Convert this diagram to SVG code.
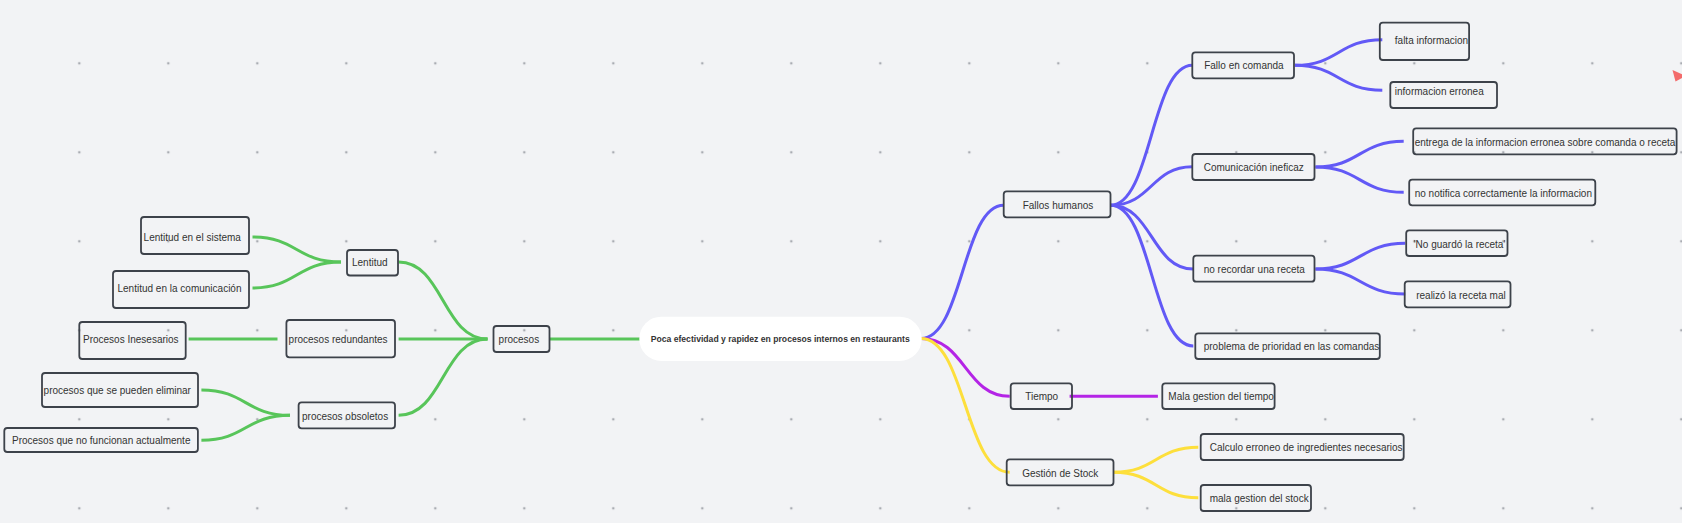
<svg xmlns="http://www.w3.org/2000/svg" width="1682" height="523" viewBox="0 0 1682 523">
<defs>
<style>
.bg{fill:#f2f3f5}
.dot{fill:#a9acb2}
.box{fill:none;stroke:#3d424a;stroke-width:1.8}
.t{font-family:"Liberation Sans",Arial,sans-serif;font-size:10px;fill:#333}
.tc{font-family:"Liberation Sans",Arial,sans-serif;font-size:9px;font-weight:bold;fill:#333}
.c{fill:none;stroke-width:3;stroke-linecap:butt}
.g{stroke:#58c55a}
.b{stroke:#6259f6}
.p{stroke:#b424e6}
.y{stroke:#fddf3c}
</style>
<pattern id="grid" x="79.3" y="63.3" width="89" height="89" patternUnits="userSpaceOnUse">
<circle class="dot" cx="0" cy="0" r="1.3"/>
<circle class="dot" cx="89" cy="0" r="1.3"/>
<circle class="dot" cx="0" cy="89" r="1.3"/>
<circle class="dot" cx="89" cy="89" r="1.3"/>
</pattern>
</defs>
<rect class="bg" x="0" y="0" width="1682" height="523"/>
<rect x="0" y="0" width="1682" height="523" fill="url(#grid)"/>

<g id="connectors">
<path class="c g" d="M252.5 237 C296.7 237 296.7 262 341 262"/>
<path class="c g" d="M252.5 288 C296.7 288 296.7 262 341 262"/>
<path class="c g" d="M398.6 262 C443 262 443 339 487.5 339"/>
<path class="c g" d="M188.6 339 L277.5 339"/>
<path class="c g" d="M398.6 339 L487.5 339"/>
<path class="c g" d="M201.4 390 C245.7 390 245.7 415.3 290 415.3"/>
<path class="c g" d="M201.4 440.3 C245.7 440.3 245.7 415.3 290 415.3"/>
<path class="c g" d="M398.6 415.3 C443 415.3 443 339 487.5 339"/>
<path class="c g" d="M550 339 L640 339"/>

<path class="c b" d="M921 338.5 C962.5 338.5 962.5 205.3 1003.7 205.3"/>
<path class="c b" d="M1110.5 205.3 C1151.4 205.3 1151.4 65.3 1192.3 65.3"/>
<path class="c b" d="M1110.5 205.3 C1151.4 205.3 1151.4 166.7 1192.3 166.7"/>
<path class="c b" d="M1110.5 205.3 C1151.9 205.3 1151.9 269 1193.3 269"/>
<path class="c b" d="M1110.5 205.3 C1151.9 205.3 1151.9 346 1193.3 346"/>
<path class="c b" d="M1295 65.3 C1338.6 65.3 1338.6 39.7 1382.3 39.7"/>
<path class="c b" d="M1295 65.3 C1338.6 65.3 1338.6 90.3 1382.3 90.3"/>
<path class="c b" d="M1315.5 167 C1359.6 167 1359.6 141.3 1403.7 141.3"/>
<path class="c b" d="M1315.5 167 C1359.6 167 1359.6 192.3 1403.7 192.3"/>
<path class="c b" d="M1315.5 269 C1360.3 269 1360.3 243.3 1405.2 243.3"/>
<path class="c b" d="M1315.5 269 C1360.3 269 1360.3 294 1405.2 294"/>

<path class="c p" d="M921 338.5 C965.3 338.5 965.3 396.3 1009.7 396.3"/>
<path class="c p" d="M1069.6 396.3 L1157.9 396.3"/>

<path class="c y" d="M921 338.5 C965.3 338.5 965.3 472.3 1009.7 472.3"/>
<path class="c y" d="M1113.5 472.3 C1155.9 472.3 1155.9 447.3 1198.3 447.3"/>
<path class="c y" d="M1113.5 472.3 C1155.9 472.3 1155.9 497.7 1198.3 497.7"/>
</g>

<g id="central">
<rect x="639.3" y="316.7" width="282.4" height="44.3" rx="22" fill="#ffffff"/>
<text class="tc" x="650.7" y="341.6" textLength="259" lengthAdjust="spacingAndGlyphs">Poca efectividad y rapidez en procesos internos en restaurants</text>
</g>

<g id="lentitud-sistema"><rect class="box" x="141" y="217" width="108" height="37" rx="3"/><text class="t" x="143.6" y="240.8">Lentitud en el sistema</text></g>
<g id="lentitud-comunicacion"><rect class="box" x="113" y="271" width="136" height="37" rx="3"/><text class="t" x="117.5" y="291.8">Lentitud en la comunicación</text></g>
<g id="lentitud"><rect class="box" x="347" y="250" width="51" height="25.5" rx="3"/><text class="t" x="352" y="266.2">Lentitud</text></g>
<g id="procesos-inesesarios"><rect class="box" x="79.3" y="322" width="106.4" height="37" rx="3"/><text class="t" x="83" y="342.5">Procesos Inesesarios</text></g>
<g id="procesos-redundantes"><rect class="box" x="286.4" y="320" width="108.6" height="37.3" rx="3"/><text class="t" x="288.6" y="342.5">procesos redundantes</text></g>
<g id="procesos"><rect class="box" x="493.5" y="326" width="56" height="26" rx="3"/><text class="t" x="498.6" y="342.5">procesos</text></g>
<g id="procesos-eliminar"><rect class="box" x="42" y="373" width="156" height="34" rx="3"/><text class="t" x="43.6" y="394.2">procesos que se pueden eliminar</text></g>
<g id="procesos-no-funcionan"><rect class="box" x="4.3" y="428" width="193.6" height="24" rx="3"/><text class="t" x="12" y="444.2">Procesos que no funcionan actualmente</text></g>
<g id="procesos-obsoletos"><rect class="box" x="298.6" y="402.3" width="96.4" height="26" rx="3"/><text class="t" x="302" y="419.5">procesos obsoletos</text></g>

<g id="fallos-humanos"><rect class="box" x="1003.7" y="191.3" width="106.8" height="26" rx="3"/><text class="t" x="1022.7" y="209.2">Fallos humanos</text></g>
<g id="fallo-comanda"><rect class="box" x="1192.3" y="52.3" width="101.7" height="26" rx="3"/><text class="t" x="1204.2" y="68.8">Fallo en comanda</text></g>
<g id="falta-informacion"><rect class="box" x="1379.8" y="22.7" width="89.3" height="37.3" rx="3"/><text class="t" x="1394.8" y="43.8">falta informacion</text></g>
<g id="informacion-erronea"><rect class="box" x="1390.3" y="82" width="106.7" height="26" rx="3"/><text class="t" x="1394.8" y="94.8">informacion erronea</text></g>
<g id="comunicacion-ineficaz"><rect class="box" x="1192.3" y="154" width="122.2" height="26" rx="3"/><text class="t" x="1203.7" y="170.8">Comunicación ineficaz</text></g>
<g id="entrega-informacion"><rect class="box" x="1413.2" y="128.3" width="263.4" height="26" rx="3"/><text class="t" x="1414.7" y="146.2">entrega de la informacion erronea sobre comanda o receta</text></g>
<g id="no-notifica"><rect class="box" x="1409.2" y="179.7" width="186.1" height="25.6" rx="3"/><text class="t" x="1414.7" y="196.5">no notifica correctamente la informacion</text></g>
<g id="no-recordar"><rect class="box" x="1193.3" y="255.7" width="121.2" height="26" rx="3"/><text class="t" x="1203.7" y="272.8">no recordar una receta</text></g>
<g id="no-guardo"><rect class="box" x="1406.2" y="230.3" width="101.3" height="25.7" rx="3"/><text class="t" x="1413.7" y="247.5">'No guardó la receta'</text></g>
<g id="realizo-mal"><rect class="box" x="1404.7" y="281.3" width="105.8" height="26" rx="3"/><text class="t" x="1416.2" y="298.5">realizó la receta mal</text></g>
<g id="problema-prioridad"><rect class="box" x="1195.3" y="333.3" width="184.5" height="25.7" rx="3"/><text class="t" x="1203.7" y="349.5">problema de prioridad en las comandas</text></g>
<g id="tiempo"><rect class="box" x="1010.7" y="383.3" width="61.3" height="25.7" rx="3"/><text class="t" x="1025.2" y="400.2">Tiempo</text></g>
<g id="mala-gestion-tiempo"><rect class="box" x="1162.3" y="383.3" width="112.3" height="25.7" rx="3"/><text class="t" x="1168.3" y="400.2">Mala gestion del tiempo</text></g>
<g id="gestion-stock"><rect class="box" x="1006.7" y="459.3" width="106.8" height="26" rx="3"/><text class="t" x="1022.2" y="476.5">Gestión de Stock</text></g>
<g id="calculo-erroneo"><rect class="box" x="1200.7" y="434" width="203" height="26" rx="3"/><text class="t" x="1209.7" y="451.2">Calculo erroneo de ingredientes necesarios</text></g>
<g id="mala-gestion-stock"><rect class="box" x="1200.7" y="485" width="110.3" height="26" rx="3"/><text class="t" x="1209.7" y="501.8">mala gestion del stock</text></g>

<polygon points="1672.5,70 1686,76 1675.5,81.5" fill="#f36b6b"/>
</svg>
